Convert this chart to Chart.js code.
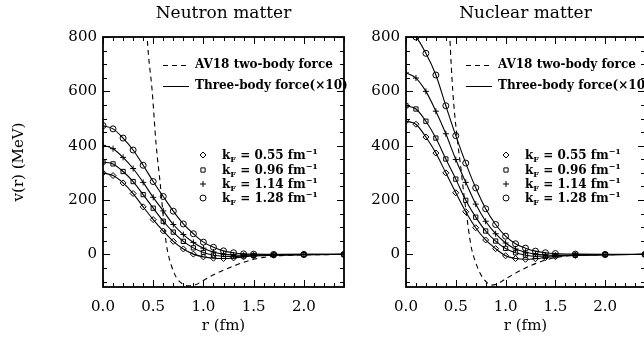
<!DOCTYPE html>
<html>
<head>
<meta charset="utf-8">
<script src="https://cdn.jsdelivr.net/npm/chart.js@4.4.0/dist/chart.umd.min.js"></script>
<style>
    html, body { margin: 0; padding: 0; background: #fff; overflow: hidden; }
    #wrap { position: relative; width: 644px; height: 343px; overflow: hidden; background: #fff; }
    canvas { position: absolute; top: 0; }
    #neutronChart { left: 0; }
    #nuclearChart { left: 330px; }
</style>
</head>
<body>
<div id="wrap">
    <canvas id="neutronChart" width="350" height="343"></canvas>
    <canvas id="nuclearChart" width="320" height="343"></canvas>
</div>
<script>
// r grid (fm) where the three-body force markers sit
const rGrid = [0, 0.1, 0.2, 0.3, 0.4, 0.5, 0.6, 0.7, 0.8, 0.9, 1.0, 1.1, 1.2, 1.3, 1.4, 1.5, 1.7, 2.0, 2.4];

// Neutron matter, three-body force (x10), MeV
const neutronKf055 = [300, 290, 263, 224, 175, 128, 86, 48, 20, 1, -9, -14, -15, -13, -9, -6, -3, -1, 0];
const neutronKf096 = [340, 333, 305, 268, 220, 170, 122, 82, 48, 24, 7, -3, -7, -8, -6, -4, -2, -1, 0];
const neutronKf114 = [401, 389, 357, 316, 265, 210, 160, 110, 73, 44, 23, 9, 1, -2, -3, -2, -1, 0, 0];
const neutronKf128 = [474, 462, 428, 384, 328, 268, 213, 159, 112, 76, 45, 26, 13, 6, 2, 1, 0, 0, 0];

// Nuclear matter, three-body force (x10), MeV
const nuclearKf055 = [490, 479, 432, 373, 300, 227, 157, 98, 53, 21, -5, -15, -18, -16, -12, -8, -4, -1, 0];
const nuclearKf096 = [547, 535, 490, 428, 351, 277, 199, 137, 86, 49, 22, 6, -3, -7, -7, -5, -3, -1, 0];
const nuclearKf114 = [668, 649, 600, 527, 444, 349, 265, 185, 122, 76, 42, 20, 8, 1, -2, -3, -2, -1, 0];
const nuclearKf128 = [818, 800, 740, 660, 547, 437, 336, 245, 168, 110, 67, 39, 23, 12, 6, 3, 1, 0, 0];

// AV18 two-body force
const av18NeutronR = [0.40, 0.44, 0.49, 0.53, 0.57, 0.60, 0.63, 0.65, 0.68, 0.73, 0.79, 0.86, 0.92, 1.0, 1.1, 1.2, 1.3, 1.4, 1.5, 1.6, 1.7, 1.8, 2.0, 2.2, 2.4];
const av18NeutronV = [1150, 800, 600, 400, 260, 140, 40, 0, -40, -85, -108, -116, -112, -96, -75, -58, -43, -29, -18, -11, -7, -4, -2, -1, 0];
const av18NuclearR = [0.40, 0.44, 0.47, 0.51, 0.55, 0.58, 0.61, 0.64, 0.66, 0.70, 0.74, 0.79, 0.86, 0.92, 1.0, 1.1, 1.2, 1.3, 1.4, 1.5, 1.6, 1.7, 2.0, 2.4];
const av18NuclearV = [1150, 800, 600, 440, 320, 225, 141, 60, 18, -30, -67, -95, -113, -108, -90, -69, -50, -34, -21, -12, -6, -3, -1, 0];

// Legend / axes
const kfLabels = ['0.55', '0.96', '1.14', '1.28'];
const kfStyles = ['rectRot', 'rect', 'cross', 'circle'];
const xTicks = [0, 0.5, 1.0, 1.5, 2.0];
const yTicks = [0, 200, 400, 600, 800];
const xMin = 0, xMax = 2.4;
const yMin = -120, yMax = 800;

const FONT = 'DejaVu Serif';

/**
 * Frame, inward IDL style ticks and the in-plot legend
 */
const panelDecor = {
    id: 'panelDecor',
    afterDatasetsDraw(chart) {
        const ctx = chart.ctx;
        const { left, right, top, bottom } = chart.chartArea;
        const xs = chart.scales.x, ys = chart.scales.y;
        ctx.save();
        ctx.strokeStyle = '#000';
        ctx.lineWidth = 1.8;
        ctx.strokeRect(left, top, right - left, bottom - top);

        ctx.lineWidth = 1;
        ctx.beginPath();
        // x ticks, every 0.1, major every 0.5
        for (let i = 0; i <= 24; i++) {
            const v = i / 10;
            const px = Math.round(xs.getPixelForValue(v)) + 0.5;
            const len = (i % 5 === 0) ? 7 : 4;
            ctx.moveTo(px, bottom); ctx.lineTo(px, bottom - len);
            ctx.moveTo(px, top); ctx.lineTo(px, top + len);
        }
        // y ticks, every 50, major every 200
        for (let v = -100; v <= 800; v += 50) {
            const py = Math.round(ys.getPixelForValue(v)) + 0.5;
            const len = (v % 200 === 0) ? 7 : 4;
            ctx.moveTo(left, py); ctx.lineTo(left + len, py);
            ctx.moveTo(right, py); ctx.lineTo(right - len, py);
        }
        ctx.stroke();

        // line legend
        ctx.fillStyle = '#000';
        ctx.textBaseline = 'middle';
        ctx.font = 'bold 12px "' + FONT + '"';
        const lx0 = left + 60, lx1 = left + 86, tx = left + 92;
        ctx.setLineDash([5, 4]);
        ctx.beginPath(); ctx.moveTo(lx0, top + 28.5); ctx.lineTo(lx1, top + 28.5); ctx.stroke();
        ctx.setLineDash([]);
        ctx.beginPath(); ctx.moveTo(lx0, top + 49.5); ctx.lineTo(lx1, top + 49.5); ctx.stroke();
        ctx.fillText('AV18 two-body force', tx, top + 28);
        ctx.fillText('Three-body force(\u00d710)', tx, top + 49);

        // marker legend
        const rows = [118, 133, 147, 161];
        kfLabels.forEach((kf, i) => {
            const y = top + rows[i];
            ctx.fillStyle = 'rgba(0,0,0,0)';
            Chart.helpers.drawPoint(ctx, {
                pointStyle: kfStyles[i], radius: 3, rotation: 0, borderWidth: 1
            }, left + 100, y);
            ctx.fillStyle = '#000';
            drawKfText(ctx, left + 119, y, kf);
        });
        ctx.restore();
    }
};

/**
 * "kF = x fm^-1" with sub/superscript
 */
function drawKfText(ctx, x, y, kf) {
    const base = y + 4;
    ctx.textBaseline = 'alphabetic';
    ctx.font = 'bold 12px "' + FONT + '"';
    ctx.fillText('k', x, base);
    x += ctx.measureText('k').width;
    ctx.font = 'bold 8px "' + FONT + '"';
    ctx.fillText('F', x, base + 3);
    x += ctx.measureText('F').width;
    ctx.font = 'bold 12px "' + FONT + '"';
    const mid = ' = ' + kf + ' fm';
    ctx.fillText(mid, x, base);
    x += ctx.measureText(mid).width;
    ctx.font = 'bold 8px "' + FONT + '"';
    ctx.fillText('\u22121', x, base - 5);
    ctx.textBaseline = 'middle';
}

function toPoints(xs, ys) {
    return xs.map((x, i) => ({ x: x, y: ys[i] }));
}

/**
 * Build one panel
 */
function makePanel(canvasId, title, curves, av18R, av18V, yWidth, padRight, showYTitle) {
    const datasets = curves.map((vals, i) => ({
        label: 'kF = ' + kfLabels[i],
        data: toPoints(rGrid, vals),
        borderColor: '#000',
        borderWidth: 1.1,
        pointStyle: kfStyles[i],
        pointRadius: 3,
        pointBorderWidth: 1,
        pointBorderColor: '#000',
        pointBackgroundColor: 'rgba(0,0,0,0)',
        cubicInterpolationMode: 'monotone',
        fill: false,
    }));
    datasets.push({
        label: 'AV18',
        data: toPoints(av18R, av18V),
        borderColor: '#000',
        borderWidth: 1.1,
        borderDash: [5, 4],
        pointRadius: 0,
        cubicInterpolationMode: 'monotone',
        fill: false,
    });

    const tickFont = { family: FONT, size: 15 };
    return new Chart(document.getElementById(canvasId), {
        type: 'line',
        data: { datasets: datasets },
        options: {
            responsive: false,
            animation: false,
            devicePixelRatio: 1,
            layout: { padding: { left: 0, right: padRight, top: 0, bottom: 0 } },
            plugins: {
                legend: { display: false },
                tooltip: { enabled: false },
                title: {
                    display: true,
                    text: title,
                    fullSize: false,
                    color: '#000',
                    font: { family: FONT, size: 17, weight: 'normal', lineHeight: 1.2 },
                    padding: { top: 3, bottom: 13.6 },
                },
            },
            scales: {
                x: {
                    type: 'linear',
                    min: xMin,
                    max: xMax,
                    afterBuildTicks: s => { s.ticks = xTicks.map(v => ({ value: v })); },
                    afterFit: s => { s.height = 56; },
                    grid: { display: false, drawTicks: false },
                    border: { display: false },
                    ticks: { color: '#000', font: tickFont, padding: 11, maxRotation: 0,
                             callback: v => v.toFixed(1) },
                    title: { display: true, text: 'r (fm)', color: '#000', font: tickFont,
                             padding: { top: 0, bottom: 8 } },
                },
                y: {
                    type: 'linear',
                    min: yMin,
                    max: yMax,
                    afterBuildTicks: s => { s.ticks = yTicks.map(v => ({ value: v })); },
                    afterFit: s => { s.width = yWidth; },
                    grid: { display: false, drawTicks: false },
                    border: { display: false },
                    ticks: { color: '#000', font: tickFont, padding: 6,
                             callback: v => String(v) },
                    title: { display: showYTitle, text: 'v(r) (MeV)', color: '#000', font: tickFont,
                             padding: { top: 10, bottom: 0 } },
                },
            },
        },
        plugins: [panelDecor],
    });
}

makePanel('neutronChart', 'Neutron matter',
    [neutronKf055, neutronKf096, neutronKf114, neutronKf128],
    av18NeutronR, av18NeutronV, 103, 6, true);
makePanel('nuclearChart', 'Nuclear matter',
    [nuclearKf055, nuclearKf096, nuclearKf114, nuclearKf128],
    av18NuclearR, av18NuclearV, 76, 3, false);
</script>
</body>
</html>
